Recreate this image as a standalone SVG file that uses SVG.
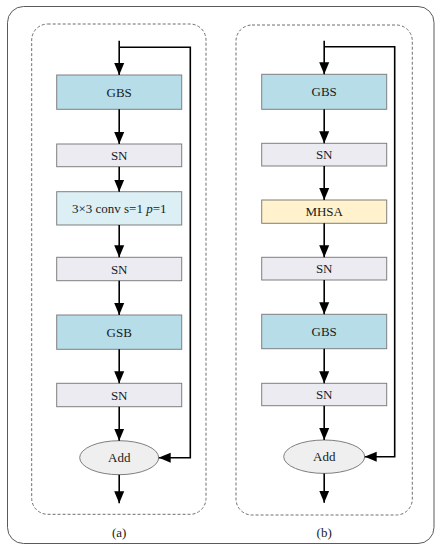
<svg xmlns="http://www.w3.org/2000/svg" width="443" height="550" viewBox="0 0 443 550">
<defs>
<marker id="ah" markerUnits="userSpaceOnUse" markerWidth="12" markerHeight="12" viewBox="0 0 12 10" refX="12" refY="5" orient="auto">
<path d="M0,0 L12,5 L0,10 Z" fill="#000"/>
</marker>
</defs>
<style>
text{font-family:"Liberation Serif","Times New Roman",serif;font-size:13px;fill:#1a1a1a;text-anchor:middle;dominant-baseline:central}
.box{stroke:#7f7f7f;stroke-width:1}
.gbs{fill:#b7dee8}
.sn{fill:#ecebf2}
.conv{fill:#dbeff5}
.mhsa{fill:#fff2cc}
.add{fill:#efefef;stroke:#7f7f7f;stroke-width:1}
.dash{fill:none;stroke:#6f6f6f;stroke-width:1;stroke-dasharray:3,2}
.conn{fill:none;stroke:#000;stroke-width:1.6}
</style>
<rect x="7.5" y="6.5" width="426.5" height="537" rx="16" fill="#fff" stroke="#5a5a5a" stroke-width="1"/>
<rect class="dash" x="31.7" y="24" width="174.3" height="490.3" rx="16"/>
<rect class="dash" x="236" y="25" width="176.3" height="490" rx="16"/>

<g id="a-gbs"><rect class="box gbs" x="56.7" y="75" width="125" height="34.3"/><text x="119.2" y="92.2">GBS</text></g>
<g id="a-sn1"><rect class="box sn" x="56.7" y="144" width="125" height="22.7"/><text x="119.2" y="155.4">SN</text></g>
<g id="a-conv"><rect class="box conv" x="56.7" y="191.7" width="125" height="33.3"/><text x="119.2" y="208.4">3×3 conv s=1 <tspan font-style="italic">p</tspan>=1</text></g>
<g id="a-sn2"><rect class="box sn" x="56.7" y="257.3" width="125" height="23.4"/><text x="119.2" y="269">SN</text></g>
<g id="a-gsb"><rect class="box gbs" x="56.7" y="315" width="125" height="34.3"/><text x="119.2" y="332.2">GSB</text></g>
<g id="a-sn3"><rect class="box sn" x="56.7" y="383.3" width="125" height="23.4"/><text x="119.2" y="395">SN</text></g>
<g id="a-add"><ellipse class="add" cx="119.2" cy="457.7" rx="39.5" ry="17"/><text x="119.2" y="457.7">Add</text></g>
<text x="119.2" y="532">(a)</text>

<g id="b-gbs1"><rect class="box gbs" x="261.7" y="74.3" width="125" height="35"/><text x="324.2" y="91.8">GBS</text></g>
<g id="b-sn1"><rect class="box sn" x="261.7" y="143.3" width="125" height="22.7"/><text x="324.2" y="154.7">SN</text></g>
<g id="b-mhsa"><rect class="box mhsa" x="261.7" y="200" width="125" height="23.3"/><text x="324.2" y="211.7">MHSA</text></g>
<g id="b-sn2"><rect class="box sn" x="261.7" y="257.3" width="125" height="22.7"/><text x="324.2" y="268.7">SN</text></g>
<g id="b-gbs2"><rect class="box gbs" x="261.7" y="314.3" width="125" height="34.4"/><text x="324.2" y="331.5">GBS</text></g>
<g id="b-sn3"><rect class="box sn" x="261.7" y="383.3" width="125" height="22.4"/><text x="324.2" y="394.5">SN</text></g>
<g id="b-add"><ellipse class="add" cx="324.2" cy="456.7" rx="40.5" ry="16.7"/><text x="324.2" y="456.7">Add</text></g>
<text x="324.2" y="532">(b)</text>

<g id="connectors">
<path class="conn" d="M119.2,40.7 V75" marker-end="url(#ah)"/>
<path class="conn" d="M119.2,47.3 H190.3 V457.7 H158.7" marker-end="url(#ah)"/>
<path class="conn" d="M119.2,109.3 V144" marker-end="url(#ah)"/>
<path class="conn" d="M119.2,166.7 V191.7" marker-end="url(#ah)"/>
<path class="conn" d="M119.2,225 V257.3" marker-end="url(#ah)"/>
<path class="conn" d="M119.2,280.7 V315" marker-end="url(#ah)"/>
<path class="conn" d="M119.2,349.3 V383.3" marker-end="url(#ah)"/>
<path class="conn" d="M119.2,406.7 V440.7" marker-end="url(#ah)"/>
<path class="conn" d="M119.2,474.7 V503.3" marker-end="url(#ah)"/>

<path class="conn" d="M324.2,40.7 V74.3" marker-end="url(#ah)"/>
<path class="conn" d="M324.2,46.7 H394.7 V456.7 H364.7" marker-end="url(#ah)"/>
<path class="conn" d="M324.2,109.3 V143.3" marker-end="url(#ah)"/>
<path class="conn" d="M324.2,166 V200" marker-end="url(#ah)"/>
<path class="conn" d="M324.2,223.3 V257.3" marker-end="url(#ah)"/>
<path class="conn" d="M324.2,280 V314.3" marker-end="url(#ah)"/>
<path class="conn" d="M324.2,348.7 V383.3" marker-end="url(#ah)"/>
<path class="conn" d="M324.2,405.7 V440" marker-end="url(#ah)"/>
<path class="conn" d="M324.2,473.4 V502.7" marker-end="url(#ah)"/>
</g>
</svg>
